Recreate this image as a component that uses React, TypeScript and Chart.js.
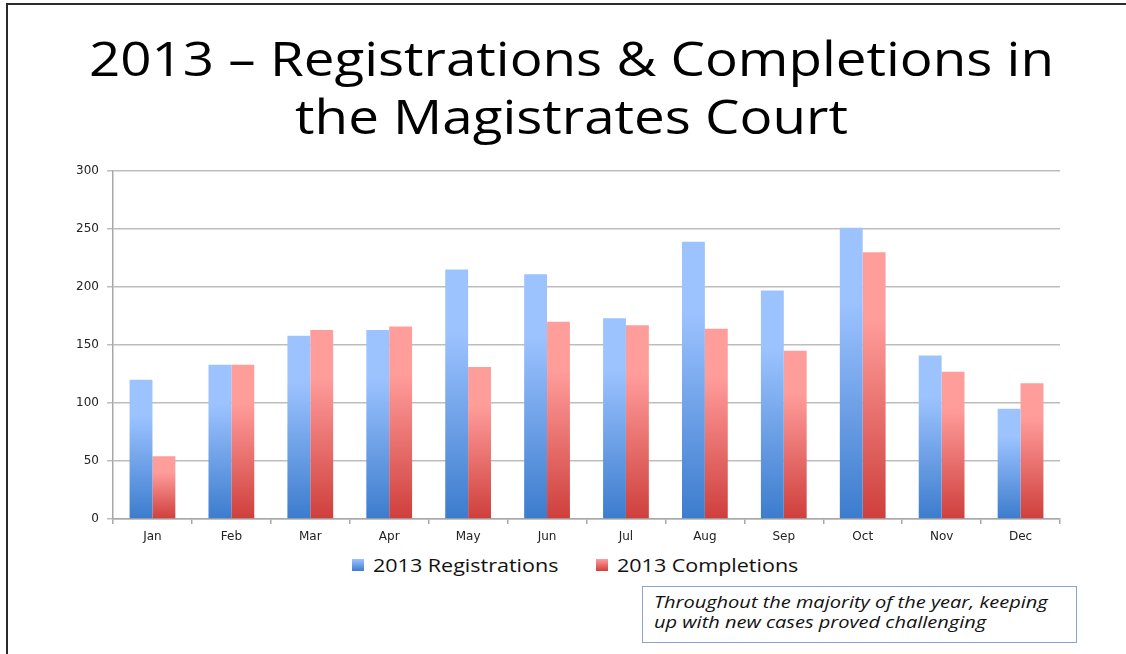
import React, { useEffect, useRef } from "react";
import { Chart, registerables } from "chart.js";

Chart.register(...registerables);

const months = ["Jan", "Feb", "Mar", "Apr", "May", "Jun", "Jul", "Aug", "Sep", "Oct", "Nov", "Dec"];
const registrations = [120, 133, 158, 163, 215, 211, 173, 239, 197, 251, 141, 95];
const completions = [54, 133, 163, 166, 131, 170, 167, 164, 145, 230, 127, 117];
const seriesNames = ["2013 Registrations", "2013 Completions"];
const titleLines = ["2013 \u2013 Registrations & Completions in", "the Magistrates Court"];
const noteLines = ["Throughout the majority of the year, keeping", "up with new cases proved challenging"];

const BLUE_TOP = "#9DC3FF";
const BLUE_BOTTOM = "#3C7CCD";
const RED_TOP = "#FF9D9B";
const RED_BOTTOM = "#CE3F3C";

const TICK_FONT = "'DejaVu Sans', sans-serif";
const TEXT_FONT = "'Open Sans', sans-serif";

function barGradient(top: string, bottom: string) {
  return (ctx: any) => {
    const chart = ctx.chart;
    const { chartArea, scales } = chart;
    if (!chartArea || ctx.type !== "data" || !scales.y) return top;
    const v = ctx.raw as number;
    const y0 = scales.y.getPixelForValue(v);
    const y1 = scales.y.getPixelForValue(0);
    const g = chart.ctx.createLinearGradient(0, y0, 0, y1);
    g.addColorStop(0, top);
    g.addColorStop(0.25, top);
    g.addColorStop(1, bottom);
    return g;
  };
}

export default function App() {
  const canvasRef = useRef<HTMLCanvasElement | null>(null);

  useEffect(() => {
    if (!canvasRef.current) return;
    const chart = new Chart(canvasRef.current, {
      type: "bar",
      data: {
        labels: months,
        datasets: [
          {
            label: seriesNames[0],
            data: registrations,
            backgroundColor: barGradient(BLUE_TOP, BLUE_BOTTOM),
            borderWidth: 0,
            categoryPercentage: 0.58,
            barPercentage: 1,
          },
          {
            label: seriesNames[1],
            data: completions,
            backgroundColor: barGradient(RED_TOP, RED_BOTTOM),
            borderWidth: 0,
            categoryPercentage: 0.58,
            barPercentage: 1,
          },
        ],
      },
      options: {
        animation: false,
        responsive: false,
        maintainAspectRatio: false,
        layout: { padding: { left: 0, right: 66, top: 21, bottom: 0 } },
        plugins: {
          legend: { display: false },
          tooltip: { enabled: false },
          title: { display: false },
        },
        scales: {
          x: {
            offset: true,
            grid: {
              display: true,
              offset: true,
              drawOnChartArea: false,
              drawTicks: true,
              tickLength: 5,
              color: "#A8A8A8",
              lineWidth: 1.5,
            },
            border: { display: true, color: "#A8A8A8", width: 1.5 },
            ticks: {
              color: "#222",
              font: { family: TICK_FONT, size: 12 },
              padding: 6,
              maxRotation: 0,
            },
            afterFit: (scale: any) => {
              scale.height = 31;
            },
          },
          y: {
            min: 0,
            max: 300,
            ticks: {
              stepSize: 50,
              color: "#222",
              font: { family: TICK_FONT, size: 12 },
              padding: 8,
            },
            grid: {
              color: "#BDBDBD",
              lineWidth: 1.5,
              drawTicks: true,
              tickLength: 6,
            },
            border: { display: true, color: "#A8A8A8", width: 1.5 },
            afterFit: (scale: any) => {
              scale.width = 113;
            },
          },
        },
      },
    });
    return () => chart.destroy();
  }, []);

  return (
    <div
      style={{
        position: "fixed",
        left: 0,
        top: 0,
        width: 1126,
        height: 654,
        overflow: "hidden",
        background: "#fff",
        fontFamily: TEXT_FONT,
      }}
    >
      <div
        style={{
          position: "absolute",
          left: 6,
          top: 3,
          width: 1200,
          height: 800,
          border: "2px solid #2a2a2a",
          boxSizing: "border-box",
        }}
      />
      <div
        style={{
          position: "absolute",
          left: 0,
          top: 29,
          width: 1143,
          textAlign: "center",
          fontSize: 48,
          lineHeight: "58px",
          color: "#000",
          whiteSpace: "nowrap",
          transform: "scaleX(1.14)",
          transformOrigin: "571.5px 0",
        }}
      >
        {titleLines.map((l, i) => (
          <div key={i}>{l}</div>
        ))}
      </div>
      <canvas
        ref={canvasRef}
        width={1126}
        height={400}
        style={{ position: "absolute", left: 0, top: 150, width: 1126, height: 400 }}
      />
      {[
        { x: 352, name: seriesNames[0], top: BLUE_TOP, bottom: BLUE_BOTTOM },
        { x: 596, name: seriesNames[1], top: RED_TOP, bottom: RED_BOTTOM },
      ].map((it, i) => (
        <React.Fragment key={i}>
          <span
            style={{
              position: "absolute",
              left: it.x,
              top: 559,
              width: 12,
              height: 12,
              background: `linear-gradient(${it.top}, ${it.bottom})`,
            }}
          />
          <div
            style={{
              position: "absolute",
              left: it.x + 21,
              top: 552,
              fontSize: 18,
              lineHeight: "26px",
              color: "#111",
              whiteSpace: "nowrap",
              transform: "scaleX(1.195)",
              transformOrigin: "0 0",
            }}
          >
            {it.name}
          </div>
        </React.Fragment>
      ))}
      <div
        style={{
          position: "absolute",
          left: 642,
          top: 586,
          width: 435,
          height: 57,
          border: "1.5px solid #8AA4CF",
          boxSizing: "border-box",
        }}
      />
      <div
        style={{
          position: "absolute",
          left: 654,
          top: 592,
          fontStyle: "italic",
          fontSize: 16,
          lineHeight: "20px",
          color: "#111",
          whiteSpace: "nowrap",
          transform: "scaleX(1.25)",
          transformOrigin: "0 0",
        }}
      >
        {noteLines.map((l, i) => (
          <div key={i}>{l}</div>
        ))}
      </div>
    </div>
  );
}
